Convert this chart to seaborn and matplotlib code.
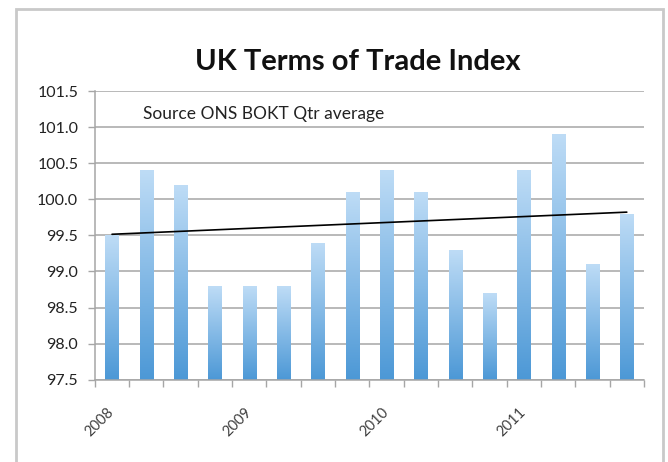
import numpy as np
import pandas as pd
import matplotlib
matplotlib.use("Agg")
import matplotlib.pyplot as plt
import seaborn as sns
from matplotlib.colors import LinearSegmentedColormap
from matplotlib.patches import Rectangle

# Quarterly UK terms of trade index, 2008 Q1 - 2011 Q4
quarters = ["2008 Q1", "2008 Q2", "2008 Q3", "2008 Q4",
            "2009 Q1", "2009 Q2", "2009 Q3", "2009 Q4",
            "2010 Q1", "2010 Q2", "2010 Q3", "2010 Q4",
            "2011 Q1", "2011 Q2", "2011 Q3", "2011 Q4"]
index_values = [99.5, 100.4, 100.2, 98.8, 98.8, 98.8, 99.4, 100.1,
                100.4, 100.1, 99.3, 98.7, 100.4, 100.9, 99.1, 99.8]
year_labels = ["2008", "2009", "2010", "2011"]
year_positions = [0, 4, 8, 12]
y_ticks = [97.5, 98.0, 98.5, 99.0, 99.5, 100.0, 100.5, 101.0, 101.5]

df = pd.DataFrame({"quarter": quarters, "index": index_values})

sns.set_theme(style="white")
plt.rcParams["font.family"] = ["Lato", "DejaVu Sans"]

fig = plt.figure(figsize=(6.68, 4.62), dpi=100)
ax = fig.add_axes([0.142, 0.178, 0.822, 0.625])

# Outer chart frame
fig.patches.append(Rectangle((0.024, -0.05), 0.968, 1.03, transform=fig.transFigure,
                             fill=False, edgecolor="#c9c9c9", linewidth=2.0, zorder=0))

base = y_ticks[0]
sns.barplot(data=df, x="quarter", y="index", ax=ax, width=0.38,
            color="#6aaee3", bottom=0, zorder=2)

# Replace flat bar fills by vertical gradients (light top, deeper blue bottom)
cmap = LinearSegmentedColormap.from_list("barfill", ["#4c98d6", "#bedcf6"])
grad = np.linspace(0, 1, 256).reshape(-1, 1)
for patch, val in zip(ax.patches, index_values):
    x0 = patch.get_x()
    w = patch.get_width()
    patch.set_facecolor("none")
    patch.set_edgecolor("none")
    im = ax.imshow(grad, cmap=cmap, origin="lower", aspect="auto",
                   extent=(x0, x0 + w, base, val), zorder=2)
    clip = Rectangle((x0, base), w, val - base, transform=ax.transData)
    im.set_clip_path(clip)

# Linear trend line across the quarters
xs = np.arange(len(index_values))
slope, intercept = np.polyfit(xs, index_values, 1)
ax.plot([xs[0], xs[-1]], [intercept, intercept + slope * xs[-1]],
        color="black", linewidth=1.2, zorder=3)

ax.set_xlim(-0.5, len(quarters) - 0.5)
ax.set_ylim(y_ticks[0], y_ticks[-1])
ax.set_yticks(y_ticks)
ax.set_yticklabels([f"{t:.1f}" for t in y_ticks], fontsize=11.5, color="#222222")
ax.yaxis.grid(True, color="#a6a6a6", linewidth=1.1, zorder=0)
ax.set_axisbelow(True)
ax.tick_params(axis="y", which="major", length=5, width=1, color="#a6a6a6", pad=7, left=True)

ax.set_xticks(year_positions)
ax.set_xticklabels(year_labels, rotation=45, ha="right", va="center",
                   rotation_mode="anchor", fontsize=10.5, color="#404040")
ax.tick_params(axis="x", which="major", length=0, pad=22)
ax.set_xticks(np.arange(-0.5, len(quarters), 1.0), minor=True)
ax.tick_params(axis="x", which="minor", length=5, width=1, color="#a6a6a6", bottom=True)

for side in ["top", "right"]:
    ax.spines[side].set_visible(False)
for side in ["left", "bottom"]:
    ax.spines[side].set_color("#a6a6a6")
    ax.spines[side].set_linewidth(1.1)

ax.set_xlabel("")
ax.set_ylabel("")

ax.text(0.9, 101.18, "Source ONS BOKT Qtr average", fontsize=12.5,
        color="#222222", va="center", ha="left", zorder=4)

fig.text(0.535, 0.866, "UK Terms of Trade Index", fontsize=21, fontweight="bold",
         color="#111111", ha="center", va="center")

fig.savefig("out.png", dpi=100)
